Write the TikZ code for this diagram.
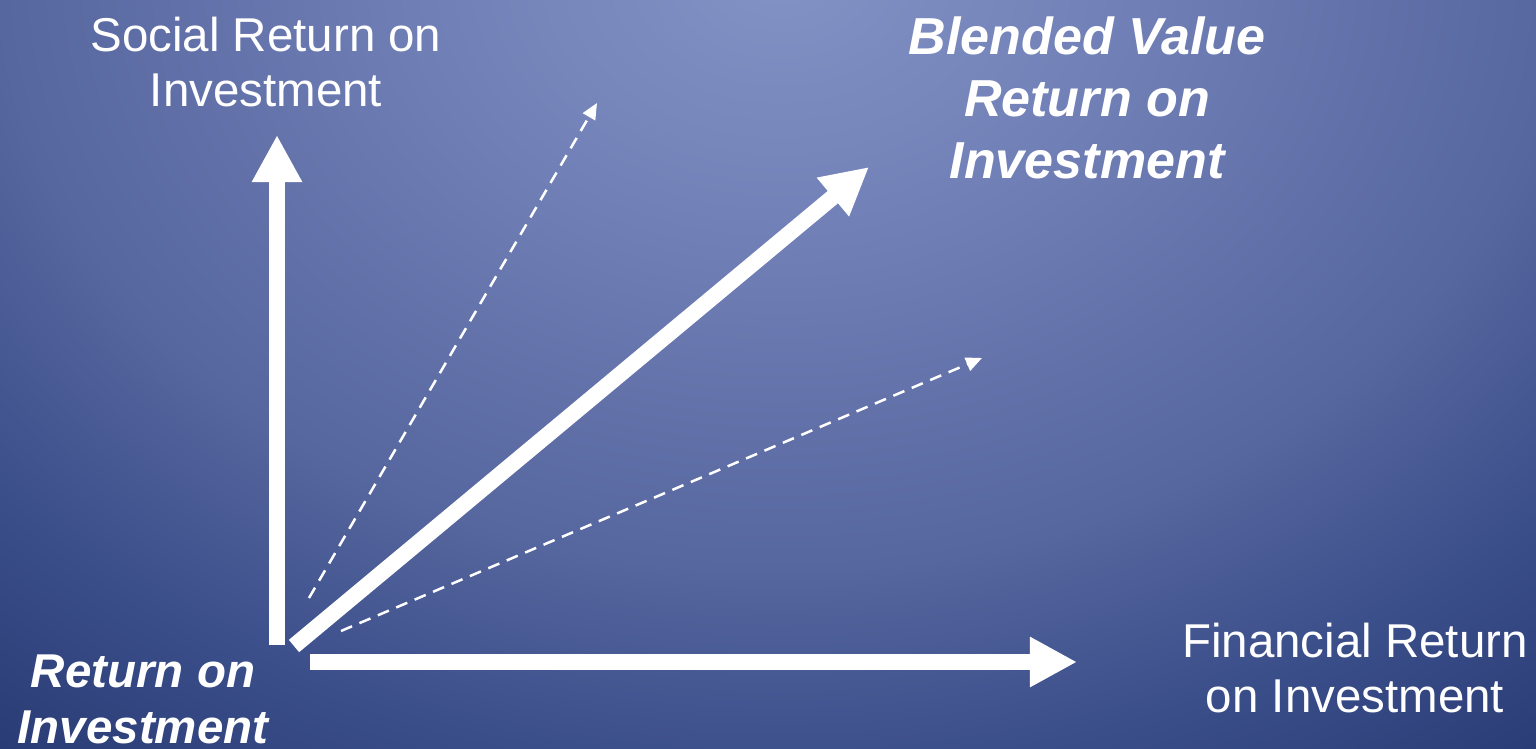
\documentclass[tikz,border=0pt]{standalone}
\usepackage{fontspec}
\setmainfont{Liberation Sans}
\usetikzlibrary{arrows.meta}

\definecolor{bgtop}{RGB}{132,147,197}
\definecolor{bgmid}{RGB}{110,125,180}
\definecolor{bglow}{RGB}{86,102,158}
\definecolor{bgdeep}{RGB}{58,78,138}
\definecolor{bgdark}{RGB}{40,58,115}

\pgfdeclareradialshading{bgglow}{\pgfpoint{0bp}{0bp}}{%
    color(0bp)=(bgtop); color(7.5bp)=(bgmid); color(15bp)=(bglow);
    color(20bp)=(bgdeep); color(25bp)=(bgdark); color(50bp)=(bgdark)}

\begin{document}
\begin{tikzpicture}[x=0.01cm, y=-0.01cm,
    axis/.style={white, line width=0.16cm, -{Triangle[length=0.47cm, width=0.47cm]}},
    guide/.style={white, line width=0.025cm, dash pattern=on 0.12cm off 0.08cm,
        -{Triangle[length=0.16cm, width=0.14cm]}},
    axisname/.style={white, align=center, inner sep=0pt,
        font=\fontsize{13.5}{15.4}\selectfont},
    boldname/.style={axisname, font=\fontsize{13.5}{15.9}\selectfont\bfseries\itshape}]

    \useasboundingbox (0, 0) rectangle (1536, 748);
    \clip (0, 0) rectangle (1536, 748);

    % Make the background
    \fill[bgdark] (0, 0) rectangle (1536, 748);
    \shade[shading=bgglow] (780, -30) ellipse [x radius=1300, y radius=1000];

    % End points of the arrows
    \coordinate (vbase) at (277, 645);
    \coordinate (vtip) at (277, 135);
    \coordinate (hbase) at (310, 662);
    \coordinate (htip) at (1077, 662);
    \coordinate (dbase) at (294, 646);
    \coordinate (dtip) at (869, 167);
    \coordinate (upbase) at (309, 598);
    \coordinate (uptip) at (597, 103);
    \coordinate (lowbase) at (341, 631);
    \coordinate (lowtip) at (982, 358);

    % Make the three main arrows
    \draw[axis] (vbase) -- (vtip);
    \draw[axis] (hbase) -- (htip);
    \draw[axis] (dbase) -- (dtip);

    % Make the dashed ones
    \draw[guide] (upbase) -- (uptip);
    \draw[guide] (lowbase) -- (lowtip);

    \node[axisname] (social) at (266, 62) {Social Return on\\Investment};
    \node[axisname] (financial) at (1355, 668) {Financial Return\\on Investment};
    \node[boldname, font=\fontsize{14.8}{17.6}\selectfont\bfseries\itshape]
        (blended) at (1087, 98) {Blended Value\\Return on\\Investment};
    \node[boldname] (roi) at (143, 699) {Return on\\Investment};

\end{tikzpicture}
\end{document}
